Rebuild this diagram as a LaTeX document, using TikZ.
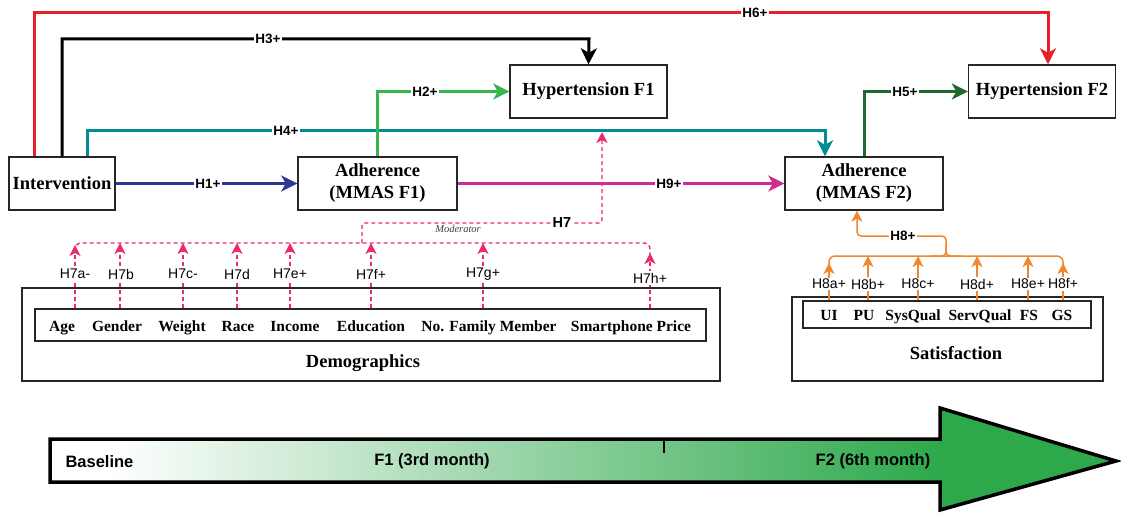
\documentclass[tikz,border=0pt]{standalone}
\usepackage{fontspec}
\setmainfont{Liberation Serif}
\setsansfont{Liberation Sans}
\usetikzlibrary{arrows.meta,calc}
\definecolor{cRed}{RGB}{230,32,40}
\definecolor{cTeal}{RGB}{0,140,150}
\definecolor{cGreen}{RGB}{55,180,75}
\definecolor{cBlue}{RGB}{45,55,150}
\definecolor{cMag}{RGB}{205,45,145}
\definecolor{cDGreen}{RGB}{30,105,45}
\definecolor{cPink}{RGB}{236,40,110}
\definecolor{cOrange}{RGB}{242,135,45}
\definecolor{cTL}{RGB}{45,168,75}
\begin{document}
\begin{tikzpicture}[x=1pt,y=-1pt,
  box/.style={draw=black!85, line width=1.4pt, inner sep=0pt, align=center,
    font=\fontsize{18.5}{22}\selectfont\bfseries},
  frame/.style={draw=black!85, line width=1.4pt, inner sep=0pt},
  word/.style={inner sep=0pt, anchor=base, font=\fontsize{15.5}{16}\selectfont\bfseries},
  conn/.style={line width=3pt, -{Stealth[length=16pt,width=16pt,inset=4.5pt]}},
  lbl/.style={fill=white, inner sep=1.5pt, font=\fontsize{13.5}{13.5}\selectfont\sffamily\bfseries},
  hlbl/.style={fill=white, inner sep=1.5pt, font=\fontsize{14}{14}\selectfont\sffamily},
  pkline/.style={draw=cPink, line width=1.4pt, dash pattern=on 4pt off 3pt},
  pkarr/.style={pkline, -{Stealth[length=11pt,width=11pt,inset=3pt]}},
  orline/.style={draw=cOrange, line width=1.5pt},
  orarr/.style={orline, -{Stealth[length=11pt,width=11pt,inset=3pt]}},
  ttl/.style={font=\fontsize{16.5}{17}\selectfont\sffamily\bfseries}
]
\useasboundingbox (0,0) rectangle (1121,513);

% ---------- main boxes ----------
\node[box, minimum width=106pt, minimum height=53pt] (interv) at (62,183.5) {Intervention};
\node[box, minimum width=159pt, minimum height=53pt] (adh1) at (377.5,183.5) {Adherence\\(MMAS F1)};
\node[box, minimum width=157pt, minimum height=53pt] (hypf1) at (588.5,91.5) {Hypertension F1};
\node[box, minimum width=147pt, minimum height=53pt] (hypf2) at (1042,91.5) {Hypertension F2};
\node[box, minimum width=158pt, minimum height=53pt] (adh2) at (864,183.5) {Adherence\\(MMAS F2)};

% ---------- main connectors ----------
\draw[conn, cRed] ([xshift=26pt]interv.north west) |- (1048,13) -- ([xshift=6pt]hypf2.north);
\draw[conn, black] (interv.north) |- (589,39) -- (hypf1.north);
\draw[conn, cTeal] ([xshift=79pt]interv.north west) |- (825,131) -- ([xshift=-39pt]adh2.north);
\draw[conn, cGreen] (adh1.north) |- (hypf1.west);
\draw[conn, cDGreen] (adh2.north) |- (hypf2.west);
\draw[conn, cBlue] (interv) -- (adh1);
\draw[conn, cMag] (adh1) -- (adh2);

\node[lbl] (l6) at (755,13) {H6+};
\node[lbl] (l3) at (268,39) {H3+};
\node[lbl] (l4) at (286,131) {H4+};
\node[lbl] (l2) at (425,91.5) {H2+};
\node[lbl] (l5) at (905,91.5) {H5+};
\node[lbl] (l1) at (208,183.5) {H1+};
\node[lbl] (l9) at (669,183.5) {H9+};

% ---------- demographics ----------
\node[frame, minimum width=698pt, minimum height=93pt] (demo) at (371,334.5) {};
\node[frame, minimum width=671pt, minimum height=32pt] (demin) at (370.5,325) {};
\node[word] (age) at (62,331) {Age};
\node[word] (gender) at (117,331) {Gender};
\node[word] (weight) at (182,331) {Weight};
\node[word] (race) at (238,331) {Race};
\node[word] (income) at (295,331) {Income};
\node[word] (edu) at (371,331) {Education};
\node[word] (fam) at (489,331) {No. Family Member};
\node[word] (phone) at (631,331) {Smartphone Price};
\node[inner sep=0pt, anchor=base, font=\fontsize{18.5}{20}\selectfont\bfseries] (demolbl) at (363,367) {Demographics};

\coordinate (t7a) at (75,245);
\coordinate (t7b) at (120,243);
\coordinate (t7c) at (183,243);
\coordinate (t7d) at (237,243);
\coordinate (t7e) at (290,243);
\coordinate (t7f) at (371,243);
\coordinate (t7g) at (483,243);
\coordinate (t7h) at (650,253);
\coordinate (modtip) at (602,132);

\draw[pkline, rounded corners=6pt] (75,252) -- (75,243) -- (650,243) -- (650,256);
\draw[pkarr, rounded corners=3pt] (362,243) -- (362,223) -- (602,223) -- (modtip);
\foreach \t in {t7a,t7b,t7c,t7d,t7e,t7f,t7g,t7h}
  \draw[pkarr] (demin.north -| \t) -- (\t);

\node[hlbl] (h7a) at (75,274) {H7a-};
\node[hlbl] (h7b) at (121,274) {H7b};
\node[hlbl] (h7c) at (183,274) {H7c-};
\node[hlbl] (h7d) at (237,274) {H7d};
\node[hlbl] (h7e) at (290,274) {H7e+};
\node[hlbl] (h7f) at (371,274) {H7f+};
\node[hlbl] (h7g) at (483,274) {H7g+};
\node[hlbl] (h7h) at (650,278) {H7h+};
\node[fill=white, inner sep=1.5pt, font=\fontsize{14.5}{14.5}\selectfont\sffamily\bfseries] (h7) at (562,223) {H7};
\node[inner sep=0pt, text=black!75, font=\fontsize{10.5}{11}\selectfont\itshape] (mod) at (458,229) {Moderator};

% ---------- satisfaction ----------
\node[frame, minimum width=311pt, minimum height=84pt] (sat) at (947.5,339) {};
\node[frame, minimum width=288pt, minimum height=27pt] (satin) at (947,314.5) {};
\node[word] (ui) at (829,320) {UI};
\node[word] (pu) at (864,320) {PU};
\node[word] (sysq) at (913,320) {SysQual};
\node[word] (servq) at (980,320) {ServQual};
\node[word] (fs) at (1029,320) {FS};
\node[word] (gs) at (1062,320) {GS};
\node[inner sep=0pt, anchor=base, font=\fontsize{18.5}{20}\selectfont\bfseries] (satlbl) at (956,359) {Satisfaction};

\coordinate (t8a) at (829,263);
\coordinate (t8b) at (868,256);
\coordinate (t8c) at (918,256);
\coordinate (t8d) at (977,256);
\coordinate (t8e) at (1028,256);
\coordinate (t8f) at (1063,263);

\draw[orline, rounded corners=6pt] (829,266) -- (829,256) -- (1063,256) -- (1063,266);
\draw[orarr, rounded corners=4pt] (930,256) -| (946,236) -| ([xshift=-7pt]adh2.south);
\draw[orline, rounded corners=4pt] (962,256) -| (946,244);
\foreach \t in {t8a,t8b,t8c,t8d,t8e,t8f}
  \draw[orarr] (satin.north -| \t) -- (\t);

\node[hlbl] (h8a) at (829,284) {H8a+};
\node[hlbl] (h8b) at (868,284) {H8b+};
\node[hlbl] (h8c) at (918,284) {H8c+};
\node[hlbl] (h8d) at (977,284) {H8d+};
\node[hlbl] (h8e) at (1028,284) {H8e+};
\node[hlbl] (h8f) at (1063,284) {H8f+};
\node[lbl] (h8) at (903,236) {H8+};

% ---------- timeline ----------
\fill[white] (50,439) rectangle (110,482);
\shade[left color=white, right color=cTL] (110,439) rectangle (942,482);
\fill[cTL] (940,408) -- (1116,461) -- (940,510) -- cycle;
\draw[line width=3.5pt, line join=miter] (50,439) -- (940,439) -- (940,408) -- (1116,461) -- (940,510) -- (940,482) -- (50,482) -- cycle;
\draw[line width=1.5pt] (664,440) -- (664,453);
\node[ttl, anchor=west] (base) at (62,462) {Baseline};
\node[ttl] (f1) at (432,461) {F1 (3rd month)};
\node[ttl] (f2) at (873,461) {F2 (6th month)};
\end{tikzpicture}
\end{document}
